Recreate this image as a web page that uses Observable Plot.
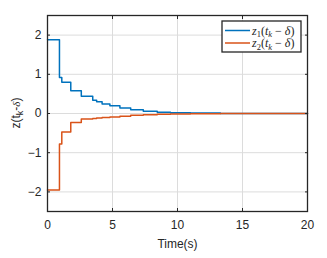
<!DOCTYPE html>
<html><head><meta charset="utf-8">
<script src="https://cdn.jsdelivr.net/npm/d3@7"></script>
<script src="https://cdn.jsdelivr.net/npm/@observablehq/plot@0.6"></script>
<style>body{margin:0;background:#fff}</style>
</head><body><div id="chart"></div>
<script>
const times   = [0, 0.92, 1.1, 1.79, 2.6, 3.48, 3.78, 4.2, 4.8, 5.57, 6.4, 7.37, 8.44, 9.46, 11.0, 13.3, 20];
const z1      = [1.88, 0.92, 0.80, 0.58, 0.44, 0.34, 0.30, 0.24, 0.20, 0.14, 0.095, 0.06, 0.035, 0.02, 0.01, 0.0, 0.0];
const z2      = [-1.95, -0.78, -0.47, -0.23, -0.14, -0.125, -0.115, -0.105, -0.09, -0.07, -0.045, -0.03, -0.02, -0.01, -0.005, 0, 0];
const xTicks  = [0, 5, 10, 15, 20];
const yTicks  = [-2, -1, 0, 1, 2];
const seriesNames = ["z1", "z2"];
const colors  = ["#0072BD", "#D95319"];

const data = [];
times.forEach((t, i) => { data.push({t, v: z1[i], s: "z1"}); data.push({t, v: z2[i], s: "z2"}); });

const ink = "#262626";
const W = 327, H = 258;
const plot = Plot.plot({
  width: W, height: H,
  marginLeft: 47, marginRight: 20, marginTop: 15, marginBottom: 47,
  style: {fontFamily: "Liberation Sans, Arial, sans-serif", fontSize: "12px", color: ink, background: "#fff"},
  x: {domain: [0, 20]},
  y: {domain: [-2.5, 2.5]},
  color: {domain: seriesNames, range: colors},
  marks: [
    Plot.gridX(xTicks, {stroke: "#dcdcdc", strokeOpacity: 1, strokeWidth: 1}),
    Plot.gridY(yTicks, {stroke: "#dcdcdc", strokeOpacity: 1, strokeWidth: 1}),
    Plot.line(data, {x: "t", y: "v", z: "s", stroke: "s", curve: "step-after", strokeWidth: 1.5}),
    Plot.frame({stroke: ink, strokeWidth: 1.3}),
    Plot.axisX(xTicks, {anchor: "bottom", tickSize: -3, tickFormat: () => "", label: null, stroke: ink}),
    Plot.axisX(xTicks, {anchor: "top", tickSize: -3, tickFormat: () => "", label: null, stroke: ink}),
    Plot.axisY(yTicks, {anchor: "left", tickSize: -3, tickFormat: () => "", label: null, stroke: ink}),
    Plot.axisY(yTicks, {anchor: "right", tickSize: -3, tickFormat: () => "", label: null, stroke: ink}),
    Plot.axisX(xTicks, {anchor: "bottom", tickSize: 0, tickPadding: 9, label: "Time(s)", labelAnchor: "center", labelArrow: "none", labelOffset: 36, fill: ink, fontSize: 12}),
    Plot.axisY(yTicks, {anchor: "left", tickSize: 0, tickPadding: 6, label: null, fill: ink, fontSize: 12})
  ]
});
document.getElementById("chart").appendChild(plot);

const svg = d3.select(plot);
// y label with subscript
const yl = svg.append("text")
  .attr("transform", `translate(20,113) rotate(-90)`)
  .attr("text-anchor", "middle")
  .attr("fill", ink)
  .style("font-family", "Liberation Sans, Arial, sans-serif")
  .style("font-size", "12px");
yl.append("tspan").text("z(t");
yl.append("tspan").attr("dy", 3).style("font-size", "9px").text("k");
yl.append("tspan").attr("dy", -3).text("-");
yl.append("tspan").style("font-family", "Liberation Serif, serif").style("font-style", "italic").style("font-size", "11px").text("δ");
yl.append("tspan").text(")");

// legend
const lg = svg.append("g").attr("transform", "translate(222,21)");
lg.append("rect").attr("width", 79).attr("height", 31).attr("fill", "#fff").attr("stroke", ink).attr("stroke-width", 1.3);
seriesNames.forEach((s, i) => {
  const y = 9.5 + i * 12.5;
  lg.append("line").attr("x1", 3).attr("x2", 28).attr("y1", y).attr("y2", y).attr("stroke", colors[i]).attr("stroke-width", 1.5);
  const t = lg.append("text").attr("x", 30).attr("y", y + 4).attr("fill", ink)
    .attr("text-anchor", "start")
    .style("font-family", "Liberation Serif, serif").style("font-size", "12px").style("font-style", "italic");
  t.append("tspan").text("z");
  t.append("tspan").attr("dy", 2.5).style("font-size", "8.5px").style("font-style", "normal").text(String(i + 1));
  t.append("tspan").attr("dy", -2.5).style("font-style", "normal").text("(");
  t.append("tspan").text("t");
  t.append("tspan").attr("dy", 2.5).style("font-size", "8.5px").text("k");
  t.append("tspan").attr("dy", -2.5).style("font-style", "normal").text(" − ");
  t.append("tspan").text("δ");
  t.append("tspan").style("font-style", "normal").text(")");
});
</script>
</body></html>
